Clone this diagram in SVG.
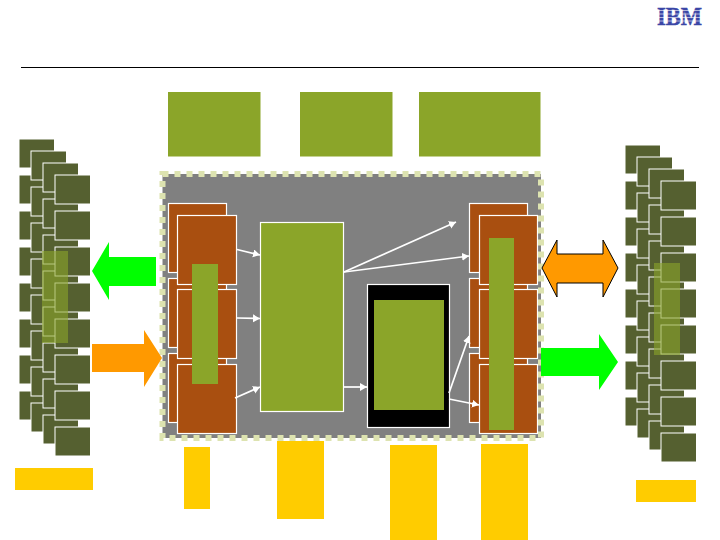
<svg xmlns="http://www.w3.org/2000/svg" xmlns:xlink="http://www.w3.org/1999/xlink" width="720" height="540" viewBox="0 0 720 540">
<style>
.w{stroke:#fff;stroke-width:1.2}
.d{fill:#556030;stroke:#fff;stroke-width:1}
.g{fill:#8ba529}
.o{fill:#a94f10;stroke:#fff;stroke-width:1.2}
.y{fill:#ffcc00}
.c{stroke:#fff;stroke-width:1.7;fill:none;marker-end:url(#a)}
.ov{fill:#8ba529;fill-opacity:.6}
</style>
<defs>
<marker id="a" markerUnits="userSpaceOnUse" markerWidth="9" markerHeight="9" refX="7" refY="4" orient="auto"><path d="M0 0L7 4L0 8z" fill="#fff"/></marker>
<g id="col"><rect class="d" x="0" y="0" width="35.500" height="29"/><rect class="d" x="0" y="36" width="35.500" height="29"/><rect class="d" x="0" y="72" width="35.500" height="29"/><rect class="d" x="0" y="108" width="35.500" height="29"/><rect class="d" x="0" y="144" width="35.500" height="29"/><rect class="d" x="0" y="180" width="35.500" height="29"/><rect class="d" x="0" y="216" width="35.500" height="29"/><rect class="d" x="0" y="252" width="35.500" height="29"/></g>
<g id="st"><use xlink:href="#col" href="#col"/><use xlink:href="#col" href="#col" x="12" y="12"/><use xlink:href="#col" href="#col" x="24" y="24"/><use xlink:href="#col" href="#col" x="36" y="36"/></g>
</defs>
<rect width="720" height="540" fill="#fff"/>
<g id="logo"><text x="657" y="24.500" font-family="'Liberation Serif',serif" font-weight="700" font-size="26" textLength="45" lengthAdjust="spacingAndGlyphs" fill="#3a46a6" stroke="#3a46a6" stroke-width=".5">IBM</text><path d="M655 10.500H704M655 14H704M655 17.500H704M655 21H704" stroke="#fff" stroke-width="1" opacity=".6"/></g>
<path id="rule" d="M21 67.500H699" stroke="#000" stroke-width="1"/>
<g id="top-boxes"><rect class="g" x="168" y="92" width="92.500" height="64.500"/><rect class="g" x="300" y="92" width="92.500" height="64.500"/><rect class="g" x="419" y="92" width="121.500" height="64.500"/></g>
<g id="left-stack"><use xlink:href="#st" href="#st" x="19" y="139"/><rect class="ov" x="42" y="251" width="26" height="92"/></g>
<g id="right-stack"><use xlink:href="#st" href="#st" x="625" y="145"/><rect class="ov" x="654" y="263" width="26" height="92"/></g>
<g id="main"><rect x="162.500" y="174" width="378.500" height="264" fill="#808080" stroke="#dde3b0" stroke-width="6" stroke-dasharray="6 6"/></g>
<g id="arrows-big">
<path d="M92 271L109 242V257H156V286H109V300Z" fill="#00ff00"/>
<path d="M162 358L144 330V344H92V372H144V387Z" fill="#ff9900"/>
<path d="M542 268L557 240V254H603V240L618 268L603 297V283H557V297Z" fill="#ff9900" stroke="#000" stroke-width="1"/>
<path d="M618 362L599 334V348H541V376H599V390Z" fill="#00ff00"/>
</g>
<g id="left-blocks">
<rect class="o" x="168.500" y="203.500" width="58" height="69"/><rect class="o" x="168.500" y="278.500" width="58" height="69"/><rect class="o" x="168.500" y="353.500" width="58" height="69"/>
<rect class="o" x="177.500" y="215.500" width="59" height="69"/><rect class="o" x="177.500" y="289.500" width="59" height="69"/><rect class="o" x="177.500" y="364.500" width="59" height="69"/>
<rect class="g" x="192" y="264" width="26" height="120"/></g>
<g id="centre"><rect class="g w" x="260.500" y="222.500" width="83" height="189"/></g>
<g id="black"><rect x="367.500" y="284.500" width="82" height="143" fill="#000" class="w"/><rect class="g" x="374" y="300" width="70" height="110"/></g>
<g id="right-blocks">
<rect class="o" x="469.500" y="203.500" width="58" height="69"/><rect class="o" x="469.500" y="278.500" width="58" height="69"/><rect class="o" x="469.500" y="353.500" width="58" height="69"/>
<rect class="o" x="479.500" y="215.500" width="58" height="69"/><rect class="o" x="479.500" y="289.500" width="58" height="69"/><rect class="o" x="479.500" y="364.500" width="58" height="69"/>
<rect class="g" x="489" y="238" width="25" height="192"/></g>
<g id="connectors">
<path class="c" d="M237 249.500L260 255"/><path class="c" d="M237 318L260 318.500"/><path class="c" d="M235 398L260 387"/>
<path class="c" d="M344 272L456 222"/><path class="c" d="M344 272L469 256"/><path class="c" d="M344 387L367 387"/>
<path class="c" d="M449 393L469 336"/><path class="c" d="M449 399L479 405"/>
</g>
<g id="labels"><rect class="y" x="15" y="468" width="78" height="22"/><rect class="y" x="636" y="480" width="60" height="22"/><rect class="y" x="184" y="447" width="26" height="62"/><rect class="y" x="277" y="441" width="47" height="78"/><rect class="y" x="390" y="445" width="47" height="95"/><rect class="y" x="481" y="444" width="47" height="96"/></g>
</svg>
